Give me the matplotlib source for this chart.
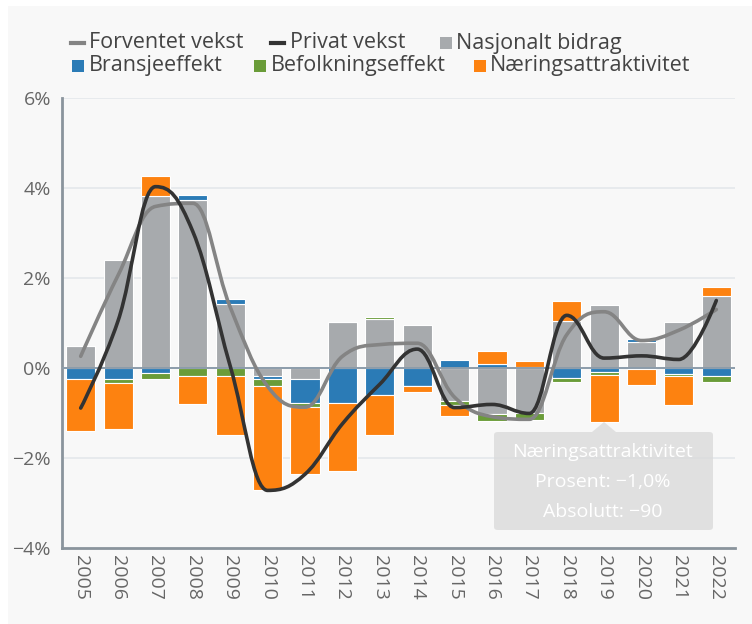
import matplotlib
matplotlib.use("Agg")
import matplotlib.pyplot as plt
from matplotlib.path import Path
from matplotlib.patches import PathPatch, Rectangle, FancyBboxPatch, Polygon
import numpy as np

plt.rcParams['font.family'] = ['Open Sans', 'DejaVu Sans']

years = ['2005', '2006', '2007', '2008', '2009', '2010', '2011', '2012', '2013',
         '2014', '2015', '2016', '2017', '2018', '2019', '2020', '2021', '2022']

nasjonalt = [0.50, 2.40, 3.83, 3.73, 1.42, -0.18, -0.25, 1.03, 1.09,
             0.96, -0.73, -1.02, -1.01, 1.05, 1.41, 0.58, 1.02, 1.61]
bransje = [-0.24, -0.24, -0.12, 0.11, 0.11, -0.06, -0.52, -0.77, -0.61,
           -0.39, 0.18, 0.10, 0.02, -0.22, -0.08, 0.06, -0.14, -0.18]
befolkning = [0.00, -0.10, -0.12, -0.18, -0.18, -0.17, -0.10, 0.00, 0.04,
              -0.02, -0.10, -0.16, -0.15, -0.09, -0.08, -0.03, -0.04, -0.13]
naering = [-1.15, -1.01, 0.44, -0.63, -1.31, -2.31, -1.49, -1.52, -0.88,
           -0.13, -0.23, 0.27, 0.13, 0.43, -1.03, -0.34, -0.65, 0.20]

forventet = [0.26, 2.06, 3.59, 3.66, 1.35, -0.41, -0.87, 0.26, 0.52,
             0.55, -0.65, -1.08, -1.14, 0.74, 1.25, 0.61, 0.84, 1.30]
privat = [-0.89, 1.05, 4.03, 3.03, 0.04, -2.72, -2.36, -1.24, -0.36,
          0.42, -0.88, -0.81, -1.01, 1.17, 0.22, 0.27, 0.19, 1.50]

yticks = [-4, -2, 0, 2, 4, 6]
ytick_labels = ['\u22124%', '\u22122%', '0%', '2%', '4%', '6%']

series_names = ['Nasjonalt bidrag', 'Bransjeeffekt', 'Befolkningseffekt', 'N\u00e6ringsattraktivitet']
series_colors = ['#a7aaad', '#2b7bb6', '#6a9c39', '#fd8210']
line_names = ['Forventet vekst', 'Privat vekst']
line_colors = ['#848484', '#333333']

tooltip_lines = ['N\u00e6ringsattraktivitet', 'Prosent: \u22121,0%', 'Absolutt: \u221290']

W, H = 752, 624
fig = plt.figure(figsize=(W / 100, H / 100), dpi=100, facecolor='white')


def fx(x):
    return x / W


def fy(y):
    return 1 - y / H


fig.patches.append(Rectangle((fx(8), 0), 1, fy(6), transform=fig.transFigure,
                             facecolor='#f8f8f8', edgecolor='none', zorder=-10))

ax = fig.add_axes([fx(62), fy(548), fx(735) - fx(62), fy(98) - fy(548)])
ax.set_facecolor('none')

x = np.arange(len(years))
width = 0.78

pos_base = np.zeros(len(years))
neg_base = np.zeros(len(years))
for vals, col in zip([nasjonalt, bransje, befolkning, naering], series_colors):
    v = np.array(vals)
    bottoms = np.where(v >= 0, pos_base, neg_base)
    ax.bar(x, v, width=width, bottom=bottoms, color=col, edgecolor='white',
           linewidth=0.8, zorder=3)
    pos_base = pos_base + np.where(v >= 0, v, 0)
    neg_base = neg_base + np.where(v < 0, v, 0)


def spline_path(xs, ys, smoothing=1.5):
    n = len(xs)
    lc = [None] * n
    rc = [None] * n
    for i in range(1, n - 1):
        px, py = xs[i], ys[i]
        lx, ly = xs[i - 1], ys[i - 1]
        nx, ny = xs[i + 1], ys[i + 1]
        d = smoothing + 1
        lcx = (smoothing * px + lx) / d
        lcy = (smoothing * py + ly) / d
        rcx = (smoothing * px + nx) / d
        rcy = (smoothing * py + ny) / d
        corr = ((rcy - lcy) * (rcx - px)) / (rcx - lcx) + py - rcy
        lcy += corr
        rcy += corr
        if lcy > ly and lcy > py:
            lcy = max(ly, py)
            rcy = 2 * py - lcy
        elif lcy < ly and lcy < py:
            lcy = min(ly, py)
            rcy = 2 * py - lcy
        if rcy > ny and rcy > py:
            rcy = max(ny, py)
            lcy = 2 * py - rcy
        elif rcy < ny and rcy < py:
            rcy = min(ny, py)
            lcy = 2 * py - rcy
        lc[i] = (lcx, lcy)
        rc[i] = (rcx, rcy)
    verts = [(xs[0], ys[0])]
    codes = [Path.MOVETO]
    for i in range(1, n):
        c1 = rc[i - 1] if rc[i - 1] is not None else (xs[i - 1], ys[i - 1])
        c2 = lc[i] if lc[i] is not None else (xs[i], ys[i])
        verts += [c1, c2, (xs[i], ys[i])]
        codes += [Path.CURVE4] * 3
    return Path(verts, codes)


for vals, col in zip([forventet, privat], line_colors):
    p = spline_path(list(x.astype(float)), list(vals))
    ax.add_patch(PathPatch(p, facecolor='none', edgecolor=col, linewidth=2.6,
                           zorder=5, capstyle='round', joinstyle='round'))

ax.set_xlim(-0.5, len(years) - 0.5)
ax.set_ylim(-4, 6)
ax.set_yticks(yticks)
ax.set_yticklabels(ytick_labels)
ax.set_xticks(x)
ax.set_xticklabels(years, rotation=270)
ax.tick_params(axis='y', length=0, pad=8, labelsize=14, labelcolor='#666666')
ax.tick_params(axis='x', length=0, pad=5, labelsize=14, labelcolor='#666666')
for t in ax.get_xticklabels():
    t.set_va('top')
    t.set_ha('center')

for yv in yticks:
    if yv == 0:
        ax.axhline(0, color='#8c9caa', linewidth=1.4, zorder=4)
    elif yv != -4:
        ax.axhline(yv, color='#e4e8eb', linewidth=1.2, zorder=1)

for s in ['top', 'right']:
    ax.spines[s].set_visible(False)
for s in ['left', 'bottom']:
    ax.spines[s].set_color('#8a949c')
    ax.spines[s].set_linewidth(2)

# tooltip
bx0, by0, bx1, by1 = 494, 432, 713, 530
ax_tr = fig.transFigure
tip = Polygon([(fx(592), fy(by0)), (fx(604), fy(422)), (fx(616), fy(by0))],
              closed=True, transform=ax_tr, facecolor='#d9d9d9', alpha=0.75,
              edgecolor='none', zorder=20)
fig.patches.append(tip)
box = FancyBboxPatch((fx(bx0), fy(by1)), fx(bx1) - fx(bx0), fy(by0) - fy(by1),
                     boxstyle='round,pad=0,rounding_size=0.005', transform=ax_tr,
                     facecolor='#d9d9d9', alpha=0.75, edgecolor='none', zorder=20)
fig.patches.append(box)
for i, t in enumerate(tooltip_lines):
    fig.text(fx(603), fy(452 + 30 * i), t, ha='center', va='center',
             color='white', fontsize=14, zorder=21)

# legend
leg_color = '#444444'
row1, row2 = 43, 66
fig.lines.append(plt.Line2D([fx(71), fx(84)], [fy(row1), fy(row1)], transform=ax_tr,
                            color=line_colors[0], linewidth=3))
fig.text(fx(89), fy(row1), line_names[0], ha='left', va='center', fontsize=15.5, color=leg_color)
fig.lines.append(plt.Line2D([fx(271), fx(284)], [fy(row1), fy(row1)], transform=ax_tr,
                            color=line_colors[1], linewidth=3))
fig.text(fx(290), fy(row1), line_names[1], ha='left', va='center', fontsize=15.5, color=leg_color)

squares = [(440, row1, 456), (72, row2, 89), (254, row2, 271), (474, row2, 490)]
for (sx, sy, tx), name, col in zip(squares, series_names, series_colors):
    fig.patches.append(Rectangle((fx(sx), fy(sy + 6)), fx(12), 12 / H, transform=ax_tr,
                                 facecolor=col, edgecolor='none'))
    fig.text(fx(tx), fy(sy), name, ha='left', va='center', fontsize=15.5, color=leg_color)

fig.savefig('out.png', dpi=100, facecolor='white')
